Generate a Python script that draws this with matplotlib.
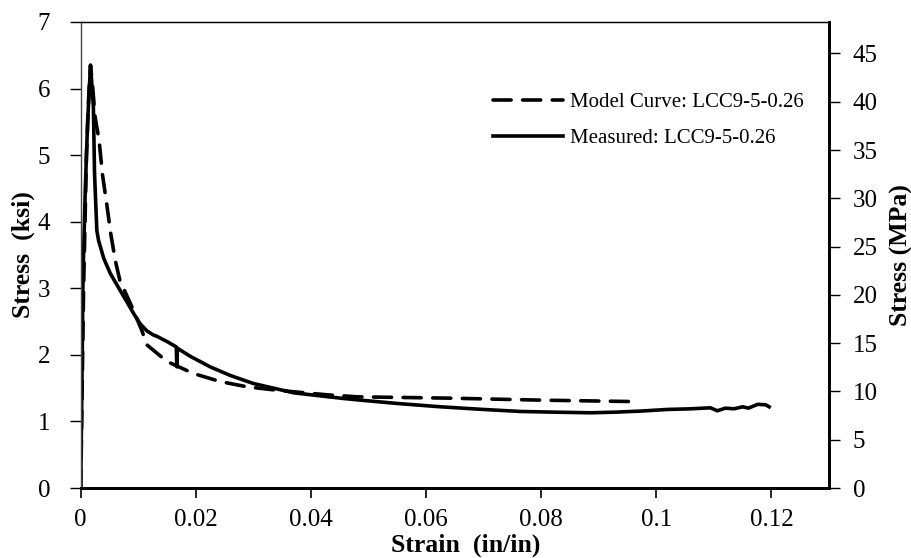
import matplotlib
matplotlib.use("Agg")
import matplotlib.pyplot as plt

# Measured: LCC9-5-0.26
meas_strain = [0.0, 0.0002, 0.0004, 0.0008, 0.0012, 0.0017, 0.0022, 0.0024, 0.0028, 0.0031,
               0.0040, 0.0051, 0.0065, 0.0080, 0.0092, 0.0103, 0.0115, 0.0126, 0.0132,
               0.0150, 0.0166, 0.0167, 0.0168, 0.0190, 0.0225, 0.0260, 0.0300, 0.0370,
               0.0451, 0.0486, 0.0550, 0.0625, 0.0700, 0.0764, 0.0820, 0.0886, 0.0930,
               0.0973, 0.1019, 0.1060, 0.1094, 0.1106, 0.1120, 0.1135, 0.1150, 0.1160,
               0.1176, 0.1190, 0.1196]
meas_stress = [0.0, 1.5, 3.2, 4.5, 5.5, 6.35, 5.73, 4.73, 3.87, 3.72,
               3.45, 3.23, 3.02, 2.80, 2.62, 2.47, 2.36, 2.30, 2.28,
               2.20, 2.12, 1.82, 2.10, 1.98, 1.82, 1.69, 1.57, 1.43,
               1.35, 1.32, 1.27, 1.22, 1.18, 1.15, 1.14, 1.13, 1.14,
               1.156, 1.18, 1.19, 1.205, 1.16, 1.20, 1.19, 1.22, 1.20,
               1.257, 1.25, 1.22]

# Model Curve: LCC9-5-0.26
model_strain = [0.0, 0.0005, 0.0010, 0.0014, 0.0017, 0.0021, 0.0025, 0.0032, 0.00376,
                0.0045, 0.0052, 0.0060, 0.0068, 0.0089, 0.0106, 0.0115, 0.0150, 0.0196,
                0.0242, 0.0289, 0.0340, 0.0428, 0.0480, 0.0640, 0.0800, 0.0950, 0.0970]
model_stress = [0.0, 3.0, 5.0, 5.9, 6.35, 6.0, 5.57, 5.22, 4.72,
                4.28, 3.83, 3.42, 3.12, 2.72, 2.37, 2.15, 1.90, 1.72,
                1.60, 1.52, 1.47, 1.40, 1.37, 1.35, 1.32, 1.30, 1.30]

x_ticks = [0, 0.02, 0.04, 0.06, 0.08, 0.1, 0.12]
x_ticklabels = ["0", "0.02", "0.04", "0.06", "0.08", "0.1", "0.12"]
ksi_ticks = [0, 1, 2, 3, 4, 5, 6, 7]
mpa_ticks = [0, 5, 10, 15, 20, 25, 30, 35, 40, 45]
KSI_TO_MPA = 6.894757

plt.rcParams['font.family'] = ['Liberation Serif', 'DejaVu Serif']

fig = plt.figure(figsize=(9.12, 5.58), dpi=100)
ax = fig.add_axes([0.0885, 0.1254, 0.909 - 0.0885, 0.9606 - 0.1254])

ax.plot(model_strain, model_stress, color='black', lw=2.6, ls=(0, (5, 3.2)),
        label='Model Curve: LCC9-5-0.26', dash_capstyle='round')
ax.plot(meas_strain, meas_stress, color='black', lw=2.6, ls='-',
        label='Measured: LCC9-5-0.26', solid_joinstyle='round')

ax.set_xlim(0, 0.13)
ax.set_ylim(0, 7)
ax.set_xticks(x_ticks)
ax.set_xticklabels(x_ticklabels)
ax.set_yticks(ksi_ticks)

for side in ['left', 'top']:
    ax.spines[side].set_linewidth(1.0)
ax.spines['left'].set_color('#444444')
ax.spines['bottom'].set_linewidth(2.0)
ax.spines['right'].set_linewidth(2.0)

ax.tick_params(axis='x', direction='out', length=7, width=1.2, labelsize=18, pad=8)
ax.tick_params(axis='y', direction='out', length=8, width=1.0, labelsize=18, pad=14)

ax.set_xlabel('Strain  (in/in)', fontsize=18.5, fontweight='bold')
ax.xaxis.set_label_coords(0.515, -0.098)
ax.set_ylabel('Stress  (ksi)', fontsize=18.5, fontweight='bold')
ax.yaxis.set_label_coords(-0.061, 0.5)

ax2 = ax.twinx()
ax2.set_ylim(0, 7 * KSI_TO_MPA)
ax2.set_yticks(mpa_ticks)
ax2.tick_params(axis='y', direction='out', length=8, width=1.0, labelsize=18, pad=9)
ax2.spines['right'].set_linewidth(2.0)
ax2.spines['bottom'].set_linewidth(2.0)
ax2.spines['left'].set_visible(False)
ax2.set_ylabel('Stress (MPa)', fontsize=18.5, fontweight='bold')
ax2.yaxis.set_label_coords(1.081, 0.5)

leg = ax.legend(loc='upper left', bbox_to_anchor=(0.5506, 0.849), frameon=False,
                fontsize=15, handlelength=3.37, handletextpad=0.32, labelspacing=0.8,
                borderpad=0, borderaxespad=0)

fig.savefig('out.png', dpi=100)
